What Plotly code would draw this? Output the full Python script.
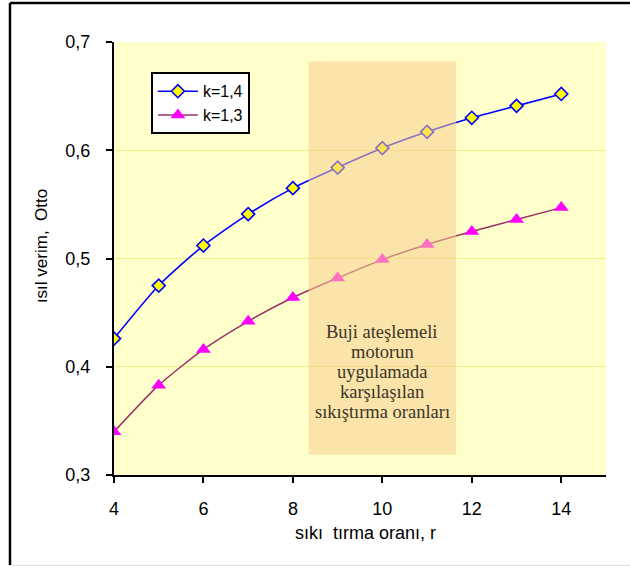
import plotly.graph_objects as go

r_vals = [4, 5, 6, 7, 8, 9, 10, 11, 12, 13, 14]
eff_k14 = [0.426, 0.475, 0.512, 0.541, 0.565, 0.584, 0.602, 0.617, 0.630, 0.641, 0.652]
eff_k13 = [0.340, 0.383, 0.416, 0.442, 0.464, 0.482, 0.499, 0.513, 0.525, 0.536, 0.547]
series_names = ["k=1,4", "k=1,3"]
x_title = "sıkı  tırma oranı, r"
y_title = "ısıl verim,  Otto"
box_lines = ["Buji ateşlemeli", "motorun", "uygulamada", "karşılaşılan", "sıkıştırma oranları"]
box_x = [8.35, 11.65]
box_y = [0.319, 0.682]

fig = go.Figure()
fig.add_trace(go.Scatter(
    x=r_vals, y=eff_k14, name=series_names[0], mode="lines+markers",
    line=dict(color="#0000FF", width=1.6, shape="spline", smoothing=0.6),
    marker=dict(symbol="diamond", size=10, color="#FFFF00", line=dict(color="#0000FF", width=1.6)),
))
fig.add_trace(go.Scatter(
    x=r_vals, y=eff_k13, name=series_names[1], mode="lines+markers",
    line=dict(color="#993366", width=1.5, shape="spline", smoothing=0.6),
    marker=dict(symbol="triangle-up", size=13, color="#FF00FF", line=dict(color="#FF00FF", width=0)),
))

# shaded region
fig.add_shape(type="rect", xref="x", yref="y", x0=box_x[0], x1=box_x[1], y0=box_y[0], y1=box_y[1],
              fillcolor="rgba(248,205,140,0.55)", line=dict(width=0), layer="above")
# text lines inside the region (centre lines ~20 px apart)
line_centers_px = [332, 352, 372, 392, 412]
for txt, py in zip(box_lines, line_centers_px):
    fig.add_annotation(x=10.0, y=(475 - py) / 433, xref="x", yref="paper", text=txt,
                       showarrow=False, align="center", xanchor="center", yanchor="middle",
                       font=dict(family="Liberation Serif, Times New Roman, serif", size=18.5, color="#3a3528"))

# outer frame
fig.add_shape(type="line", xref="paper", yref="paper", x0=-0.2114, x1=-0.2114, y0=-0.208, y1=1.090,
              line=dict(color="black", width=2.5))
fig.add_shape(type="line", xref="paper", yref="paper", x0=-0.2114, x1=1.10, y0=1.090, y1=1.090,
              line=dict(color="black", width=2.5))
fig.add_shape(type="line", xref="paper", yref="paper", x0=-0.2114, x1=1.10, y0=-0.2105, y1=-0.2105,
              line=dict(color="#BBBBBB", width=1.5))

fig.add_annotation(x=-0.146, y=0.529, xref="paper", yref="paper", text=y_title, textangle=-90,
                   xanchor="center", yanchor="middle",
                   showarrow=False, font=dict(family="Arial, Liberation Sans, sans-serif", size=17, color="black"))
fig.add_annotation(x=0.512, y=-0.134, xref="paper", yref="paper", text=x_title,
                   xanchor="center", yanchor="middle",
                   showarrow=False, font=dict(family="Arial, Liberation Sans, sans-serif", size=18, color="black"))

fig.update_layout(
    width=630, height=566,
    margin=dict(l=114, r=24, t=42, b=91),
    paper_bgcolor="white", plot_bgcolor="#FFFFCC",
    separators=",.",
    font=dict(family="Arial, Liberation Sans, sans-serif", size=16, color="black"),
    showlegend=True,
    legend=dict(x=0.075, y=0.93, xanchor="left", yanchor="top", bgcolor="white",
                bordercolor="black", borderwidth=2, font=dict(size=16),
                tracegroupgap=0, itemwidth=40),
)
fig.update_xaxes(range=[4, 15], dtick=2, tick0=4, showgrid=False, showline=True, linecolor="black",
                 linewidth=2, ticks="outside", ticklen=6, tickwidth=2, tickcolor="black", zeroline=False,
                 tickfont=dict(size=18), ticklabelstandoff=10)
fig.update_yaxes(range=[0.3, 0.7], dtick=0.1, tickformat=".1f", showgrid=True, gridcolor="#F2EE8A",
                 gridwidth=1, showline=True, linecolor="black", linewidth=2, ticks="outside", ticklen=6,
                 tickwidth=2, tickcolor="black", zeroline=False, tickfont=dict(size=18),
                 ticklabelstandoff=12)

fig.write_html("out.html")
